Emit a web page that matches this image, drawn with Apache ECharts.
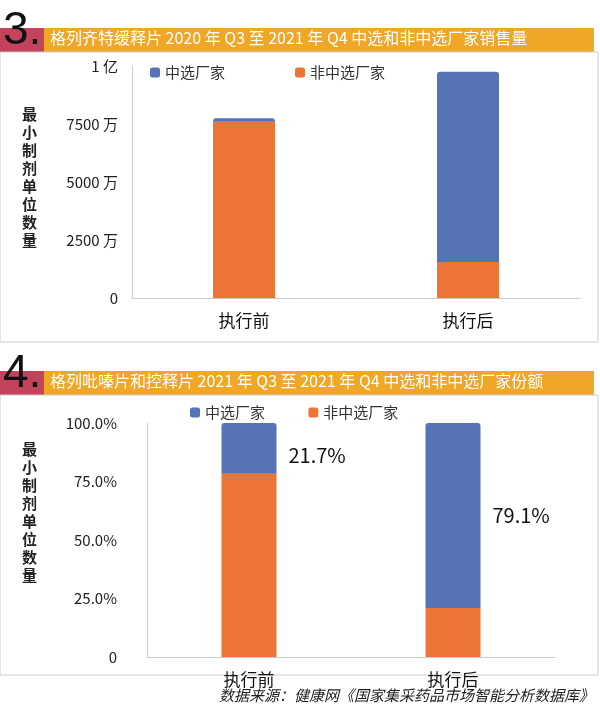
<!DOCTYPE html>
<html lang="zh">
<head>
<meta charset="UTF-8">
<script src="https://cdn.jsdelivr.net/npm/echarts@6/dist/echarts.min.js"></script>
<style>body{margin:0;background:#fff}</style>
</head>
<body>
<div id="chart" style="width:600px;height:718px;"></div>
<script>
// 数据
const categories = ['执行前', '执行后'];
const salesSelected = [150, 8200];      // 万，中选厂家
const salesOther = [7600, 1550];        // 万，非中选厂家
const shareSelected = [21.7, 79.1];     // %
const shareOther = [78.3, 20.9];        // %

const blue = '#5573b5', orange = '#ec7434';
const font = '"Noto Sans CJK SC", sans-serif';
const chart = echarts.init(document.getElementById('chart'));

function header(y, num, text) {
    return [
        { type: 'rect', shape: { x: 42, y: y, width: 552, height: 24 }, style: { fill: '#f0a626' } },
        { type: 'rect', shape: { x: 0, y: y, width: 44, height: 24 }, style: { fill: '#c4435c' } },
        { type: 'text', x: 3, y: y - 20, style: { text: num, font: '46px Liberation Sans', fill: '#111' } },
        { type: 'text', x: 50, y: y + 2, style: { text: text, font: '16px ' + font, fill: '#fff' } },
        { type: 'rect', shape: { x: 0, y: y + 24, width: 598, height: 290 - (y > 300 ? 10 : 0) }, style: { fill: 'none', stroke: '#ccc', lineWidth: 1 } }
    ];
}

const yName = (top) => ({
    type: 'text', left: 22, top: top,
    style: { text: '最\n小\n制\n剂\n单\n位\n数\n量', font: 'bold 15px ' + font, fill: '#222', lineHeight: 18 }
});

const option = {
    animation: false,
    textStyle: { fontFamily: font },
    graphic: [
        ...header(28, '3.', '格列齐特缓释片 2020 年 Q3 至 2021 年 Q4 中选和非中选厂家销售量'),
        ...header(371, '4.', '格列吡嗪片和控释片 2021 年 Q3 至 2021 年 Q4 中选和非中选厂家份额'),
        yName(105), yName(440),
        { type: 'text', right: 6, top: 688, style: { text: '数据来源：健康网《国家集采药品市场智能分析数据库》', font: 'italic 15px ' + font, fill: '#222' } }
    ],
    legend: [
        { left: 145, top: 60, itemWidth: 10, itemHeight: 10, itemGap: 70, textStyle: { fontSize: 15, color: '#333' },
          data: ['中选厂家', '非中选厂家'] },
        { left: 185, top: 400, itemWidth: 10, itemHeight: 10, itemGap: 40, textStyle: { fontSize: 15, color: '#333' },
          data: ['中选厂家 ', '非中选厂家 '] }
    ],
    grid: [
        { left: 132, right: 20, top: 66, height: 232 },
        { left: 147, right: 45, top: 423, height: 234 }
    ],
    xAxis: [0, 1].map(i => ({
        type: 'category', gridIndex: i, data: categories,
        axisLine: { lineStyle: { color: '#ccc' } }, axisTick: { show: false },
        axisLabel: { fontSize: 17, color: '#111', margin: 14 }
    })),
    yAxis: [
        { type: 'value', gridIndex: 0, min: 0, max: 10000, interval: 2500,
          splitLine: { show: false }, axisLine: { show: true, lineStyle: { color: '#ccc' } },
          axisLabel: { fontSize: 15, color: '#222', margin: 14,
              formatter: v => v === 0 ? '0' : v === 10000 ? '1 亿' : v + ' 万' } },
        { type: 'value', gridIndex: 1, min: 0, max: 100, interval: 25,
          splitLine: { show: false }, axisLine: { show: true, lineStyle: { color: '#ccc' } },
          axisLabel: { fontSize: 15, color: '#222', margin: 30, formatter: v => v === 0 ? '0' : v.toFixed(1) + '%' } }
    ],
    series: [
        { name: '非中选厂家', type: 'bar', stack: 'a', xAxisIndex: 0, yAxisIndex: 0, barWidth: 62,
          itemStyle: { color: orange }, data: salesOther },
        { name: '中选厂家', type: 'bar', stack: 'a', xAxisIndex: 0, yAxisIndex: 0, barWidth: 62,
          itemStyle: { color: blue, borderRadius: [3, 3, 0, 0] }, data: salesSelected },
        { name: '非中选厂家 ', type: 'bar', stack: 'b', xAxisIndex: 1, yAxisIndex: 1, barWidth: 55,
          itemStyle: { color: orange }, data: shareOther },
        { name: '中选厂家 ', type: 'bar', stack: 'b', xAxisIndex: 1, yAxisIndex: 1, barWidth: 55,
          itemStyle: { color: blue, borderRadius: [3, 3, 0, 0] }, data: shareSelected,
          label: { show: true, position: 'right', distance: 12,
              fontSize: 20, color: '#111', formatter: p => p.value.toFixed(1) + '%' },
          labelLayout: p => ({ y: p.dataIndex === 0 ? 445 : 505 }) }
    ]
};
chart.setOption(option);
</script>
</body>
</html>
